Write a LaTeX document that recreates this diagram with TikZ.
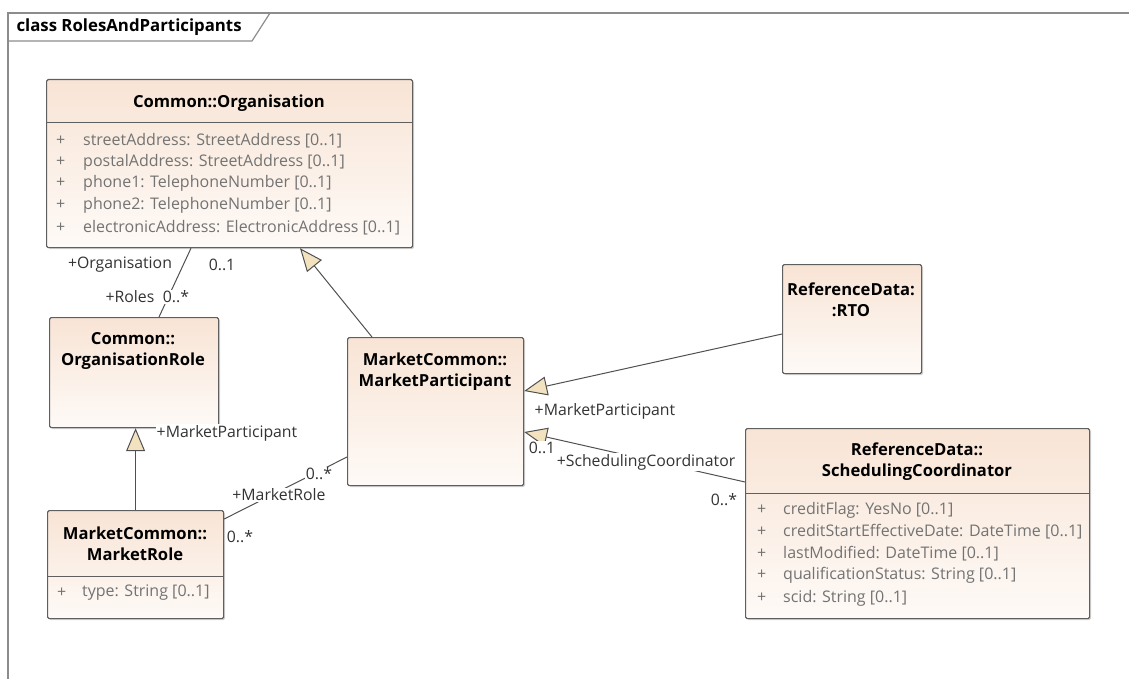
\documentclass[tikz,border=0pt]{standalone}
\usepackage{fontspec}
\setmainfont{Open Sans}
\usetikzlibrary{arrows.meta,shadows,calc}

\definecolor{boxtop}{RGB}{248,228,213}
\definecolor{boxbot}{RGB}{254,250,247}
\definecolor{boxline}{RGB}{95,95,95}
\definecolor{attrgray}{RGB}{115,115,115}
\definecolor{linkgray}{RGB}{80,80,80}
\definecolor{tipfill}{RGB}{242,226,192}
\definecolor{framegray}{RGB}{140,140,140}

\tikzset{
	classbox/.style={draw=boxline, line width=1.2pt, rounded corners=1.5pt, top color=boxtop, bottom color=boxbot, drop shadow={shadow xshift=1.5pt, shadow yshift=-1.5pt, opacity=0.35}, anchor=north west, inner sep=0pt},
	classname/.style={font=\bfseries\fontsize{16.6}{21}\selectfont, align=center},
	attr/.style={font=\fontsize{16}{18}\selectfont, text=attrgray, anchor=west, inner sep=0pt},
	rolelabel/.style={font=\fontsize{15.8}{18}\selectfont, text=black!80, fill=white, inner sep=1pt},
	link/.style={draw=linkgray, line width=1pt},
	inherit/.style={link, -{Triangle[length=23pt, width=19pt, fill=tipfill]}}
}

\begin{document}
\begin{tikzpicture}[x=1pt, y=-1pt]
	\useasboundingbox (0,0) rectangle (1129,679);
	
	% DRAW FRAME
	\draw[framegray, line width=1.5pt] (8,679) -- (8,13) -- (1129,13);
	\draw[framegray, line width=1.2pt] (8,41) -- (252,41) -- (270,13);
	\node[anchor=west, font=\bfseries\fontsize{16.8}{18}\selectfont] (frametitle) at (13,27) {class RolesAndParticipants};
	
	% DRAW CLASSES
	\node[classbox, minimum width=366pt, minimum height=168pt] (org) at (46,79) {};
	\node[classbox, minimum width=169pt, minimum height=110pt] (orgrole) at (49,317) {};
	\node[classbox, minimum width=176pt, minimum height=108pt] (mrole) at (47,510) {};
	\node[classbox, minimum width=176pt, minimum height=148pt] (mpart) at (347,337) {};
	\node[classbox, minimum width=139pt, minimum height=109pt] (rto) at (782,264) {};
	\node[classbox, minimum width=344pt, minimum height=190pt] (sched) at (745,428) {};
	
	% class names
	\node[classname] (orgN) at (229,103) {Common::Organisation};
	\node[classname] (orgroleN) at (133,351) {Common::\\OrganisationRole};
	\node[classname] (mroleN) at (135,544) {MarketCommon::\\MarketRole};
	\node[classname] (mpartN) at (435,372) {MarketCommon::\\MarketParticipant};
	\node[classname] (rtoN) at (851,300) {ReferenceData:\\:RTO};
	\node[classname] (schedN) at (917,462) {ReferenceData::\\SchedulingCoordinator};
	
	% compartments
	\draw[boxline, line width=1pt] (46,123) -- (412,123);
	\draw[boxline, line width=1pt] (47,576) -- (223,576);
	\draw[boxline, line width=1pt] (745,493) -- (1089,493);
	
	% DRAW ATTRIBUTES
	\foreach \y/\t in {141/{streetAddress: StreetAddress [0..1]}, 162/{postalAddress: StreetAddress [0..1]}, 183/{phone1: TelephoneNumber [0..1]}, 205/{phone2: TelephoneNumber [0..1]}, 228/{electronicAddress: ElectronicAddress [0..1]}}{
		\node[attr] (orgP\y) at (56,\y) {+};
		\node[attr] (orgA\y) at (83,\y) {\t};
	}
	\node[attr] (mroleP) at (57,593) {+};
	\node[attr] (mroleA) at (82,593) {type: String [0..1]};
	\foreach \y/\t in {510/{creditFlag: YesNo [0..1]}, 532/{creditStartEffectiveDate: DateTime [0..1]}, 554/{lastModified: DateTime [0..1]}, 575/{qualificationStatus: String [0..1]}, 598/{scid: String [0..1]}}{
		\node[attr] (schedP\y) at (757,\y) {+};
		\node[attr] (schedA\y) at (783,\y) {\t};
	}
	
	% DRAW LINKS
	\draw[link] ($(org.south west)+(145,0)$) -- ($(orgrole.north west)+(110,0)$);
	\draw[inherit] (mrole.north) -- (mrole.north |- orgrole.south);
	\draw[link] ($(mrole.north east)+(0,9)$) -- ($(mpart.north west)+(0,120)$);
	\draw[inherit] ($(mpart.north west)+(25,0)$) -- ($(org.south west)+(254,0)$);
	\draw[inherit] ($(rto.north west)+(0,70)$) -- ($(mpart.north east)+(0,54)$);
	\draw[inherit] ($(sched.north west)+(0,54)$) -- ($(mpart.north east)+(0,95)$);
	
	% DRAW ROLE LABELS
	\node[rolelabel] (lOrg) at (120,265) {+Organisation};
	\node[rolelabel] (lOrgM) at (222,265) {0..1};
	\node[rolelabel] (lRoles) at (130,297) {+Roles};
	\node[rolelabel] (lRolesM) at (176,297) {0..*};
	\node[rolelabel] (lMPleft) at (227,433) {+MarketParticipant};
	\node[rolelabel] (lMPM) at (319,474) {0..*};
	\node[rolelabel] (lMRole) at (279,495) {+MarketRole};
	\node[rolelabel] (lMRoleM) at (240,537) {0..*};
	\node[rolelabel] (lMPright) at (605,411) {+MarketParticipant};
	\node[rolelabel] (lSchedM1) at (542,448) {0..1};
	\node[rolelabel] (lSched) at (646,462) {+SchedulingCoordinator};
	\node[rolelabel] (lSchedM2) at (724,500) {0..*};
\end{tikzpicture}
\end{document}
